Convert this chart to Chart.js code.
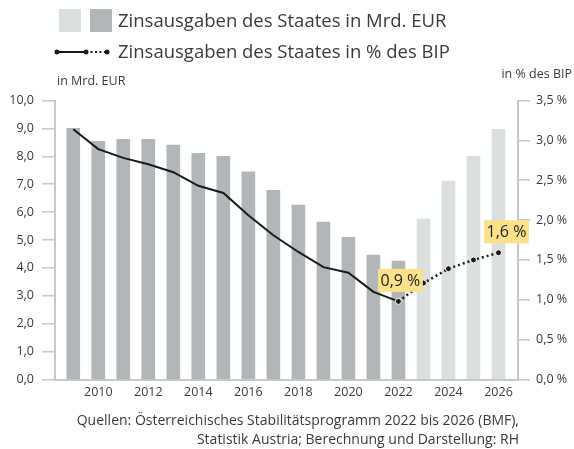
<!DOCTYPE html>
<html>
<head>
<meta charset="utf-8">
<script src="https://cdn.jsdelivr.net/npm/chart.js@4/dist/chart.umd.min.js"></script>
<style>
  html, body { margin: 0; padding: 0; background: #fff; }
  #wrap { position: relative; width: 574px; height: 449px; font-family: "Open Sans", sans-serif; color: #3a3a3a; }
  canvas { position: absolute; left: 0; top: 0; }
  .txt { position: absolute; white-space: nowrap; }
  .sw { position: absolute; width: 22px; height: 23px; }
</style>
</head>
<body>
<div id="wrap">
  <canvas id="c" width="574" height="449"></canvas>
  <div class="sw" style="left:59px;top:9px;background:#dcdfe0"></div>
  <div class="sw" style="left:90px;top:9px;background:#b2b6b8"></div>
  <div class="txt" id="leg1" style="left:118px;top:6px;font-size:18.5px;line-height:28px">Zinsausgaben des Staates in Mrd. EUR</div>
  <svg style="position:absolute;left:54px;top:46px" width="60" height="12">
    <line x1="3" y1="6" x2="32" y2="6" stroke="#1a1a1a" stroke-width="2"/>
    <line x1="32" y1="6" x2="53" y2="6" stroke="#1a1a1a" stroke-width="2" stroke-dasharray="2,2.5"/>
    <circle cx="3" cy="6" r="2.5" fill="#1a1a1a"/>
    <circle cx="32" cy="6" r="2.5" fill="#1a1a1a"/>
    <circle cx="53" cy="6" r="2.5" fill="#1a1a1a"/>
  </svg>
  <div class="txt" id="leg2" style="left:118px;top:37px;font-size:18.5px;line-height:28px">Zinsausgaben des Staates in % des BIP</div>
  <div class="txt" style="left:57px;top:72px;font-size:12.5px;line-height:18px">in Mrd. EUR</div>
  <div class="txt" style="right:2px;top:65px;font-size:12.5px;line-height:18px">in % des BIP</div>
  <div class="txt" style="right:55px;top:410px;font-size:14px;line-height:19px;text-align:right">Quellen: Österreichisches Stabilitätsprogramm 2022 bis 2026 (BMF),<br>Statistik Austria; Berechnung und Darstellung: RH</div>
</div>
<script>
const years = [2009, 2010, 2011, 2012, 2013, 2014, 2015, 2016, 2017, 2018, 2019, 2020, 2021, 2022, 2023, 2024, 2025, 2026];
const spendingBnEur = [9.0, 8.54, 8.61, 8.61, 8.40, 8.11, 8.0, 7.44, 6.78, 6.25, 5.64, 5.10, 4.46, 4.24, 5.75, 7.11, 8.0, 8.97];
const spendingPctGdp = [3.14, 2.89, 2.78, 2.70, 2.60, 2.43, 2.34, 2.06, 1.81, 1.60, 1.41, 1.34, 1.10, 0.98, 1.21, 1.39, 1.50, 1.59];
const forecastFrom = 2023;
const xTickYears = [2010, 2012, 2014, 2016, 2018, 2020, 2022, 2024, 2026];
const leftTicks = [0, 1, 2, 3, 4, 5, 6, 7, 8, 9, 10];
const rightTicks = [0, 0.5, 1, 1.5, 2, 2.5, 3, 3.5];
const pointLabels = { 2022: "0,9 %", 2026: "1,6 %" };

const barColors = years.map(y => y >= forecastFrom ? "#dcdfe0" : "#b2b6b8");
const pointRadii = years.map(y => y >= forecastFrom - 1 ? 3 : 0);

const labelPlugin = {
  id: "pointLabels",
  afterDatasetsDraw(chart) {
    const ctx = chart.ctx;
    const meta = chart.getDatasetMeta(1);
    ctx.save();
    ctx.font = '16px "Open Sans", sans-serif';
    ctx.textAlign = "center";
    ctx.textBaseline = "middle";
    years.forEach((y, i) => {
      const t = pointLabels[y];
      if (!t) return;
      const p = meta.data[i];
      const dx = y === 2026 ? 8 : 2;
      const cx = p.x + dx, cy = p.y - 21;
      const w = ctx.measureText(t).width + 5, h = 23;
      ctx.fillStyle = "#fbe18a";
      ctx.fillRect(cx - w / 2, cy - h / 2, w, h);
      ctx.fillStyle = "#222";
      ctx.fillText(t, cx, cy + 1);
    });
    ctx.restore();
  }
};

const tickFont = { family: '"Open Sans", sans-serif', size: 12.5 };
const gridGrey = "#c5c8ca";

new Chart(document.getElementById("c"), {
  data: {
    datasets: [
      {
        type: "bar",
        data: years.map((y, i) => ({ x: y, y: spendingBnEur[i] })),
        backgroundColor: barColors,
        barThickness: 13,
        yAxisID: "yL",
        order: 2
      },
      {
        type: "line",
        data: years.map((y, i) => ({ x: y, y: spendingPctGdp[i] })),
        borderColor: "#1a1a1a",
        borderWidth: 2,
        tension: 0,
        pointRadius: pointRadii,
        pointBackgroundColor: "#1a1a1a",
        pointBorderColor: "#ffffff",
        pointBorderWidth: 1,
        segment: {
          borderDash: ctx => ctx.p0.parsed.x >= forecastFrom - 1 ? [2, 3] : undefined,
          borderWidth: ctx => ctx.p0.parsed.x >= forecastFrom - 1 ? 2.5 : 2
        },
        yAxisID: "yR",
        order: 1
      }
    ]
  },
  options: {
    responsive: false,
    animation: false,
    events: [],
    layout: { padding: { top: 100.5, left: 0, right: 0, bottom: 0 } },
    plugins: { legend: { display: false }, tooltip: { enabled: false } },
    scales: {
      x: {
        type: "linear",
        offset: false,
        min: 2008.27,
        max: 2026.78,
        afterBuildTicks: s => { s.ticks = xTickYears.map(v => ({ value: v })); },
        afterFit: s => { s.height = 69.5; },
        ticks: { callback: v => String(v), font: tickFont, color: "#3a3a3a", padding: 5, maxRotation: 0, autoSkip: false },
        grid: { display: false, drawTicks: false, offset: false },
        border: { display: true, color: gridGrey, width: 2 }
      },
      yL: {
        position: "left",
        min: 0, max: 10,
        afterBuildTicks: s => { s.ticks = leftTicks.map(v => ({ value: v })); },
        afterFit: s => { s.width = 55; },
        ticks: { callback: v => v.toFixed(1).replace(".", ","), font: tickFont, color: "#3a3a3a", padding: 8 },
        grid: { drawOnChartArea: false, drawTicks: true, tickLength: 13, color: gridGrey, lineWidth: 1.5 },
        border: { display: true, color: gridGrey, width: 2 }
      },
      yR: {
        position: "right",
        min: 0, max: 3.5,
        afterBuildTicks: s => { s.ticks = rightTicks.map(v => ({ value: v })); },
        afterFit: s => { s.width = 56; },
        ticks: { callback: v => v.toFixed(1).replace(".", ",") + " %", font: tickFont, color: "#3a3a3a", padding: 6 },
        grid: { drawOnChartArea: false, drawTicks: true, tickLength: 12, color: gridGrey, lineWidth: 1.5 },
        border: { display: true, color: gridGrey, width: 2 }
      }
    }
  },
  plugins: [labelPlugin]
});
</script>
</body>
</html>
